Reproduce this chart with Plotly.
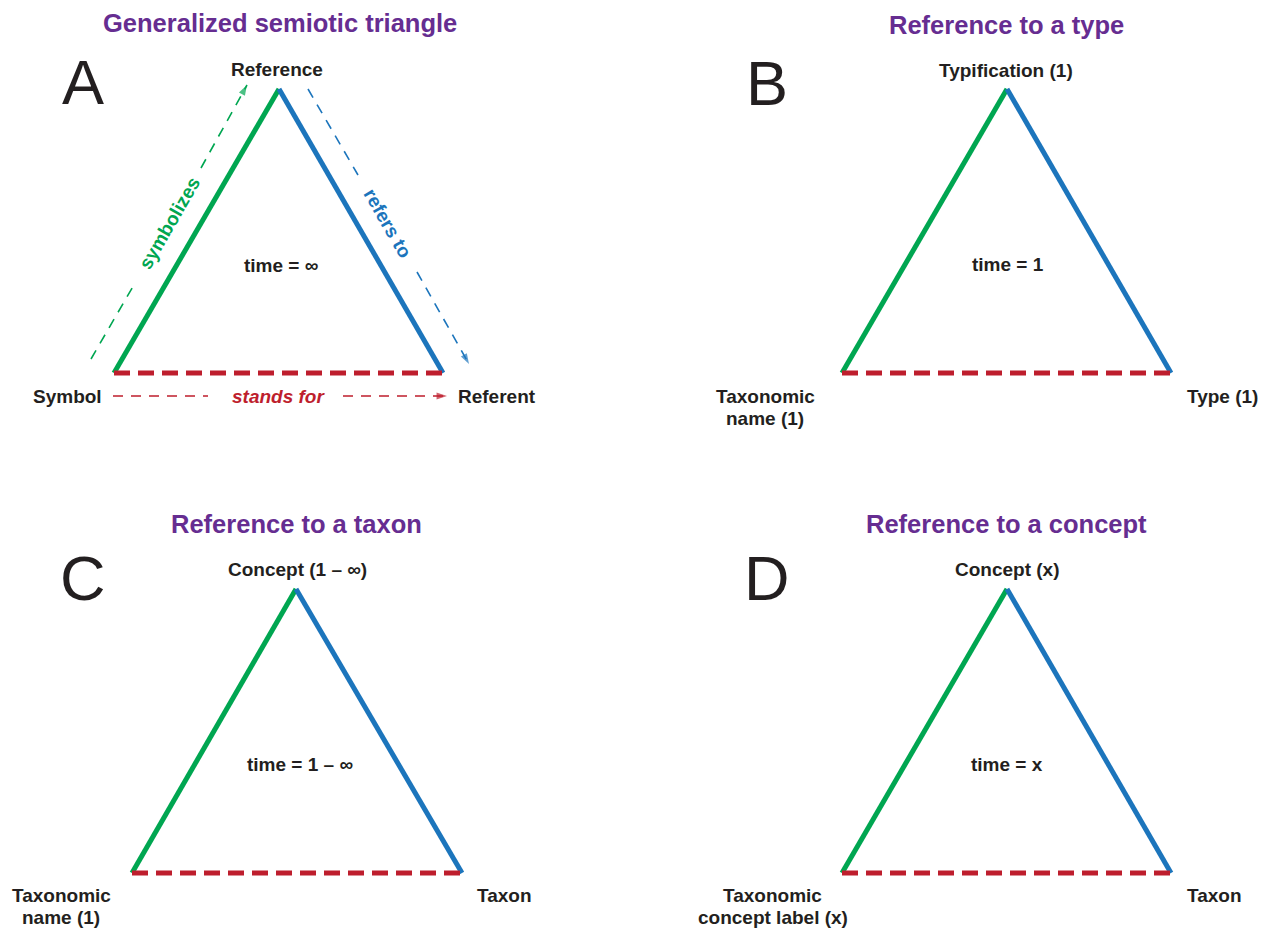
import plotly.graph_objects as go

W, H = 1269, 931

# ---- data: triangle vertices (apex, base-left, base-right) per panel ----
panels = ["A", "B", "C", "D"]
titles = ["Generalized semiotic triangle", "Reference to a type",
          "Reference to a taxon", "Reference to a concept"]
apex_x = [279, 1007, 296, 1007]
apex_y = [89, 89, 589, 589]
left_x = [114, 842, 132, 842]
right_x = [443, 1171, 462, 1171]
base_y = [373, 373, 873, 873]

title_x = [280, 1006, 296, 1006]
title_y = [23, 25, 524, 524]
letter_x = [83, 767, 83, 767]
letter_y = [82, 83, 578, 578]

top_labels = ["Reference", "Typification (1)", "Concept (1 – ∞)", "Concept (x)"]
top_lx = [277, 1006, 297, 1007]
top_ly = [69, 70, 569, 569]
# corner labels: one entry per text line
corner_text = ["Symbol", "Referent",
               "Taxonomic", "name (1)", "Type (1)",
               "Taxonomic", "name (1)", "Taxon",
               "Taxonomic", "concept label (x)", "Taxon"]
corner_x = [67, 497,
            765, 765, 1222,
            61, 61, 504,
            772, 773, 1214]
corner_y = [396, 396,
            396, 418, 396,
            895, 917, 895,
            895, 917, 895]
time_labels = ["time = ∞", "time = 1", "time = 1 – ∞", "time = x"]
time_lx = [281, 1008, 300, 1007]
time_ly = [265, 264, 764, 764]

# relation arrows in panel A: (segment1 start, segment1 end, segment2 start, tip)
sym_x = [91, 135, 201, 247]
sym_y = [359, 283, 168, 85]
ref_x = [308, 358, 417, 469]
ref_y = [89, 175, 272, 364]
stand_x = [113, 208, 343, 447]
stand_y = [396, 396, 396, 396]
rel_labels = ["symbolizes", "refers to", "stands for"]
rel_lx = [169, 388, 278]
rel_ly = [223, 223, 396]
rel_angle = [-60, 60, 0]

GREEN = "#00A651"
BLUE = "#1C75BC"
RED = "#BE1E2D"
PURPLE = "#662D91"
DARK = "#231F20"
FONT = "Liberation Sans"

fig = go.Figure()

for i in range(4):
    fig.add_trace(go.Scatter(x=[left_x[i], apex_x[i]], y=[base_y[i], apex_y[i]],
                             mode="lines", line=dict(color=GREEN, width=5),
                             hoverinfo="skip", showlegend=False))
    fig.add_trace(go.Scatter(x=[apex_x[i], right_x[i]], y=[apex_y[i], base_y[i]],
                             mode="lines", line=dict(color=BLUE, width=5),
                             hoverinfo="skip", showlegend=False))
    fig.add_trace(go.Scatter(x=[left_x[i], right_x[i]], y=[base_y[i], base_y[i]],
                             mode="lines", line=dict(color=RED, width=5, dash="16px,8px"),
                             hoverinfo="skip", showlegend=False))


def dashed_arrow(xs, ys, color):
    fig.add_trace(go.Scatter(x=[xs[0], xs[1]], y=[ys[0], ys[1]], mode="lines",
                             line=dict(color=color, width=1.6, dash="10px,8px"),
                             hoverinfo="skip", showlegend=False))
    fig.add_trace(go.Scatter(x=[xs[2], xs[3]], y=[ys[2], ys[3]], mode="lines",
                             line=dict(color=color, width=1.6, dash="10px,8px"),
                             hoverinfo="skip", showlegend=False))
    fig.add_trace(go.Scatter(x=[xs[2], xs[3]], y=[ys[2], ys[3]], mode="markers",
                             marker=dict(symbol="arrow", size=[0, 11], color=color,
                                         angleref="previous", line=dict(width=0)),
                             hoverinfo="skip", showlegend=False))


dashed_arrow(sym_x, sym_y, GREEN)
dashed_arrow(ref_x, ref_y, BLUE)
dashed_arrow(stand_x, stand_y, RED)

LBL = 19
ann = []
for i in range(4):
    ann.append(dict(x=title_x[i], y=title_y[i], text="<b>%s</b>" % titles[i],
                    font=dict(family=FONT, size=25.5, color=PURPLE)))
    ann.append(dict(x=letter_x[i], y=letter_y[i], text=panels[i],
                    font=dict(family=FONT, size=63, color=DARK)))
    ann.append(dict(x=top_lx[i], y=top_ly[i], text="<b>%s</b>" % top_labels[i],
                    font=dict(family=FONT, size=LBL, color=DARK)))
    ann.append(dict(x=time_lx[i], y=time_ly[i], text="<b>%s</b>" % time_labels[i],
                    font=dict(family=FONT, size=LBL, color=DARK)))

for k in range(len(corner_text)):
    ann.append(dict(x=corner_x[k], y=corner_y[k], text="<b>%s</b>" % corner_text[k],
                    font=dict(family=FONT, size=LBL, color=DARK)))

rel_colors = [GREEN, BLUE, RED]
for k in range(3):
    txt = "<b>%s</b>" % rel_labels[k]
    if k == 2:
        txt = "<b><i>%s</i></b>" % rel_labels[k]
    ann.append(dict(x=rel_lx[k], y=rel_ly[k], text=txt, textangle=rel_angle[k],
                    font=dict(family=FONT, size=LBL, color=rel_colors[k])))

for a in ann:
    a.update(xref="x", yref="y", showarrow=False, xanchor="center", yanchor="middle")

fig.update_layout(
    width=W, height=H,
    margin=dict(l=0, r=0, t=0, b=0),
    paper_bgcolor="white", plot_bgcolor="white",
    xaxis=dict(range=[0, W], visible=False, fixedrange=True),
    yaxis=dict(range=[H, 0], visible=False, fixedrange=True),
    annotations=ann,
    showlegend=False,
)

fig.write_html("out.html", config={"displayModeBar": False},
               post_script="document.body.style.margin='0';document.body.style.overflow='hidden';")
